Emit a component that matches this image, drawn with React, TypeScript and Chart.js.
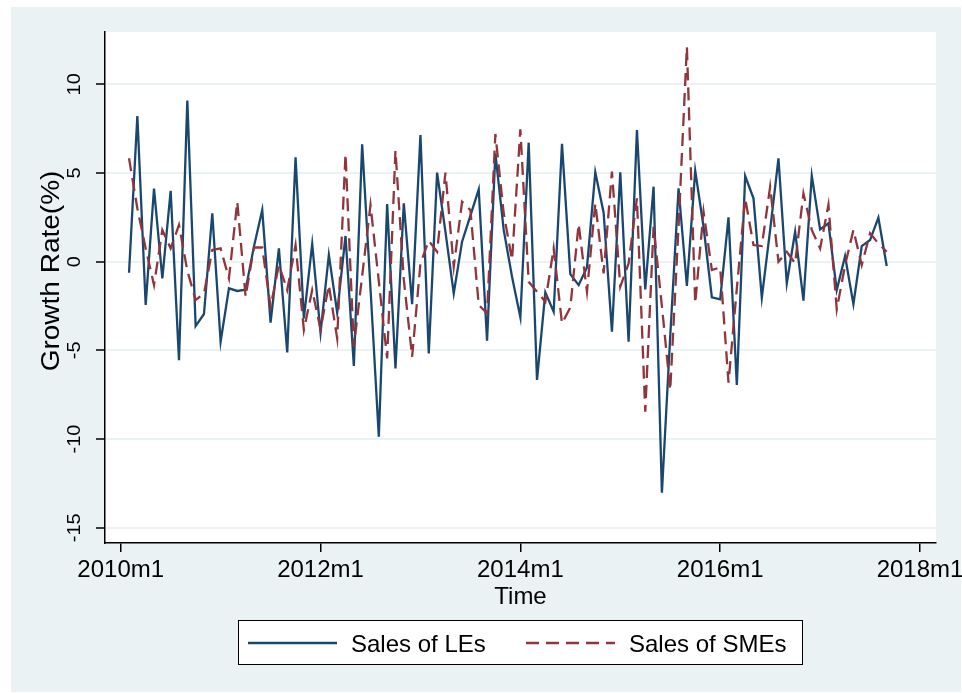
import React, { useEffect, useRef } from "react";
import { Chart, registerables } from "chart.js";

Chart.register(...registerables);

// Monthly growth rates (%), first observation 2010m2 (x = months since 2010m1)
const firstMonthOffset = 1;
const les = [
  -0.62, 8.21, -2.44, 4.12, -0.94, 4.0, -5.55, 9.08, -3.63, -2.95, 2.73, -4.51,
  -1.5, -1.65, -1.58, 0.85, 2.91, -3.44, 0.75, -5.11, 5.88, -3.2, 1.0, -4.0,
  0.38, -2.88, 1.45, -5.88, 6.62, -1.5, -9.87, 3.25, -6.02, 3.29, -2.39, 7.14,
  -5.17, 5.02, 1.7, -1.79, 1.13, 2.6, 4.08, -4.45, 6.11, 1.79, -0.85, -3.14,
  6.71, -6.67, -1.73, -2.82, 6.64, -0.7, -1.32, -0.32, 5.04, 2.76, -3.95, 5.04,
  -4.51, 7.42, -1.56, 4.23, -13.03, -4.2, 4.14, -1.37, 5.13, 1.97, -2.01, -2.12,
  2.5, -6.95, 4.83, 3.57, -2.03, 1.8, 5.83, -1.22, 1.69, -2.2, 4.85, 1.82,
  2.16, -1.6, 0.32, -2.39, 0.88, 1.22, 2.48, -0.24,
];
const smes = [
  5.83, 3.0, 0.75, -1.32, 1.79, 0.75, 2.07, -0.5, -2.16, -1.79, 0.66, 0.75,
  -0.94, 3.38, -1.97, 0.8, 0.8, -2.54, -0.19, -1.6, 0.94, -3.85, -1.6, -3.8,
  -1.32, -4.32, 6.07, -4.79, -0.8, 3.2, -1.1, -5.45, 6.26, -1.0, -5.36, -0.1,
  1.18, 0.56, 5.02, -0.28, 3.38, 2.91, -2.44, -2.91, 7.2, 2.73, 0.1, 7.46,
  -1.13, -1.69, -2.26, 0.75, -3.48, -2.58, 2.12, -1.69, 3.29, -0.66, 5.08, -1.41,
  -0.1, 3.57, -8.46, 1.97, -2.5, -7.24, 2.0, 12.12, -2.35, 2.82, -0.47, -0.32,
  -6.82, -1.5, 3.57, 0.94, 0.88, 4.23, 0.0, 0.56, -0.09, 3.85, 1.79, 0.75,
  3.2, -2.69, -0.2, 1.79, -0.19, 1.6, 1.03, 0.56,
];
const seriesNames = ["Sales of LEs", "Sales of SMEs"];
const xTickValues = [0, 24, 48, 72, 96];
const xTickLabels = ["2010m1", "2012m1", "2014m1", "2016m1", "2018m1"];
const yTickValues = [-15, -10, -5, 0, 5, 10];
const yTickLabels = ["-15", "-10", "-5", "0", "5", "10"];
const xTitle = "Time";
const yTitle = "Growth Rate(%)";

const FONT = '"Liberation Sans", Arial, sans-serif';
const NAVY = "#1a476f";
const MAROON = "#90353b";
const BLUISH = "#eaf2f3";
const DASH = [13, 7];

const bgPlugin = {
  id: "stataBg",
  beforeDraw(chart: any) {
    const { ctx, chartArea: a, width, height } = chart;
    ctx.save();
    ctx.fillStyle = "#ffffff";
    ctx.fillRect(0, 0, width, height);
    ctx.fillStyle = BLUISH;
    ctx.fillRect(11, 7, 950, 685);
    ctx.fillStyle = "#ffffff";
    ctx.fillRect(a.left, a.top, a.right - a.left, a.bottom - a.top);
    ctx.restore();
  },
};

const textPlugin = {
  id: "stataText",
  afterDraw(chart: any) {
    const { ctx, chartArea: a } = chart;
    const ys = chart.scales.y;
    ctx.save();
    ctx.fillStyle = "#000";
    // y tick labels (rotated)
    ctx.font = `18.5px ${FONT}`;
    ctx.textAlign = "center";
    ctx.textBaseline = "alphabetic";
    yTickValues.forEach((v, i) => {
      const py = ys.getPixelForValue(v);
      ctx.save();
      ctx.translate(79.5, py);
      ctx.rotate(-Math.PI / 2);
      ctx.scale(1.08, 1);
      ctx.fillText(yTickLabels[i], 0, 0);
      ctx.restore();
    });
    // y title
    ctx.save();
    ctx.font = `25px ${FONT}`;
    ctx.translate(58.5, 271);
    ctx.rotate(-Math.PI / 2);
    ctx.scale(1.12, 1);
    ctx.fillText(yTitle, 0, 0);
    ctx.restore();
    // x title
    ctx.font = `24px ${FONT}`;
    ctx.textAlign = "center";
    ctx.fillText(xTitle, (a.left + a.right) / 2, 604);
    // legend
    const ds = chart.data.datasets;
    ctx.fillStyle = "#fff";
    ctx.fillRect(238, 620, 564, 45);
    ctx.strokeStyle = "#000";
    ctx.lineWidth = 1;
    ctx.strokeRect(238.5, 620.5, 564, 44);
    const items = [
      { x0: 248, x1: 337, tx: 351 },
      { x0: 526, x1: 615, tx: 629 },
    ];
    items.forEach((it, i) => {
      const d = ds[i];
      ctx.beginPath();
      ctx.strokeStyle = d.borderColor;
      ctx.lineWidth = 2.3;
      ctx.setLineDash(d.borderDash || []);
      ctx.moveTo(it.x0, 643);
      ctx.lineTo(it.x1, 643);
      ctx.stroke();
      ctx.setLineDash([]);
      ctx.fillStyle = "#000";
      ctx.font = `24px ${FONT}`;
      ctx.textAlign = "left";
      ctx.fillText(d.label, it.tx, 652);
    });
    ctx.restore();
  },
};

export default function App() {
  const ref = useRef<HTMLCanvasElement | null>(null);
  useEffect(() => {
    document.body.style.margin = "0";
    const canvas = ref.current;
    if (!canvas) return;
    const toPoints = (arr: number[]) =>
      arr.map((v, i) => ({ x: i + firstMonthOffset, y: v }));
    const chart = new Chart(canvas, {
      type: "line",
      data: {
        datasets: [
          {
            label: seriesNames[0],
            data: toPoints(les),
            borderColor: NAVY,
            borderWidth: 2.3,
            pointRadius: 0,
            tension: 0,
            fill: false,
            order: 2,
          },
          {
            label: seriesNames[1],
            data: toPoints(smes),
            borderColor: MAROON,
            borderWidth: 2.3,
            borderDash: DASH,
            pointRadius: 0,
            tension: 0,
            fill: false,
            order: 1,
          },
        ],
      },
      options: {
        animation: false,
        responsive: false,
        maintainAspectRatio: false,
        layout: { padding: { left: 0, right: 26, top: 32, bottom: 0 } },
        plugins: {
          legend: { display: false },
          tooltip: { enabled: false },
          title: { display: false },
        },
        scales: {
          x: {
            type: "linear",
            min: -1.886,
            max: 97.92,
            afterBuildTicks: (scale: any) => {
              scale.ticks = xTickValues.map((v) => ({ value: v }));
            },
            afterFit: (scale: any) => {
              scale.height = 150;
              scale.paddingLeft = 0;
              scale.paddingRight = 0;
            },
            ticks: {
              autoSkip: false,
              maxRotation: 0,
              minRotation: 0,
              padding: 4,
              color: "#000",
              font: { family: FONT, size: 24 },
              callback: (v: any) => {
                const i = xTickValues.indexOf(Number(v));
                return i >= 0 ? xTickLabels[i] : "";
              },
            },
            grid: {
              drawOnChartArea: false,
              drawTicks: true,
              tickLength: 9,
              tickColor: "#000",
              tickWidth: 1.5,
              lineWidth: 1.5,
            },
            border: { display: true, color: "#000", width: 1.5 },
          },
          y: {
            type: "linear",
            min: -15.86,
            max: 12.95,
            afterBuildTicks: (scale: any) => {
              scale.ticks = yTickValues.map((v) => ({ value: v }));
            },
            afterFit: (scale: any) => {
              scale.width = 105;
              scale.paddingTop = 0;
              scale.paddingBottom = 0;
            },
            ticks: { display: false },
            grid: {
              color: BLUISH,
              lineWidth: 2,
              drawTicks: true,
              tickLength: 9,
              tickColor: "#000",
              tickWidth: 1.5,
            },
            border: { display: true, color: "#000", width: 1.5 },
          },
        },
      },
      plugins: [bgPlugin, textPlugin],
    } as any);
    return () => chart.destroy();
  }, []);
  return (
    <div style={{ width: 962, height: 693 }}>
      <canvas ref={ref} width={962} height={693} style={{ display: "block" }} />
    </div>
  );
}
